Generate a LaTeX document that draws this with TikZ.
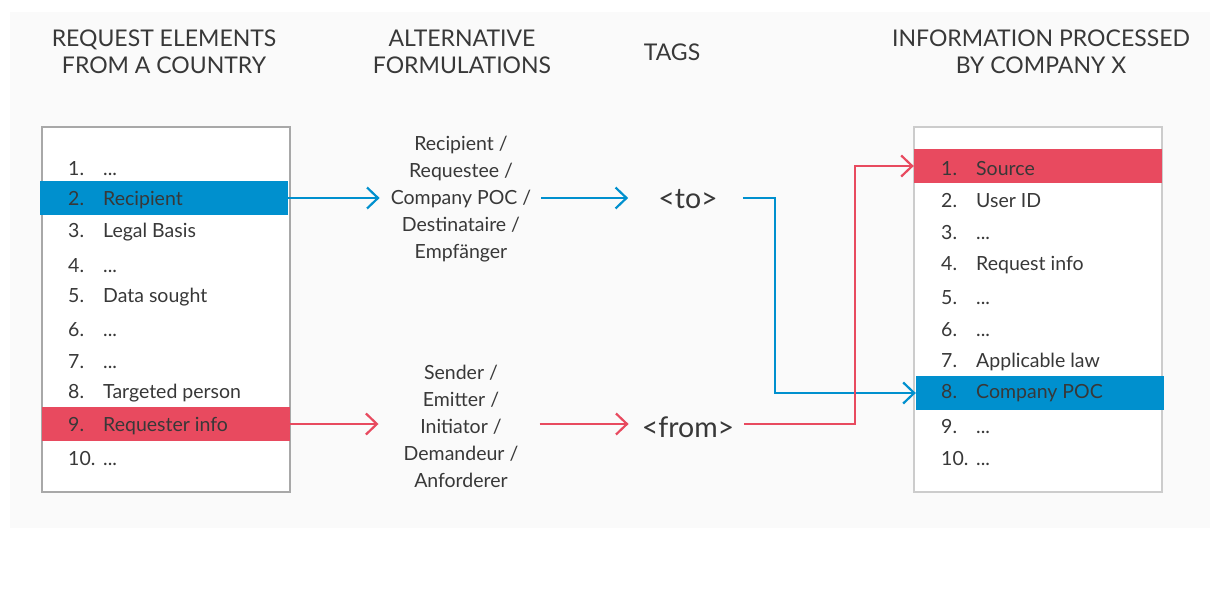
\documentclass[tikz,border=0pt]{standalone}
\usepackage{fontspec}
\setmainfont{Lato}
\usetikzlibrary{arrows.meta,calc}
\definecolor{bgc}{HTML}{FAFAFA}
\definecolor{txt}{HTML}{383838}
\definecolor{hblue}{HTML}{0090CE}
\definecolor{hred}{HTML}{E84A5F}
\definecolor{lborder}{HTML}{A8A8A8}
\definecolor{rborder}{HTML}{CCCCCC}
\tikzset{
  header/.style={text=txt, align=center, font=\fontsize{23}{27}\selectfont, inner sep=0pt},
  listbox/.style={fill=white, line width=1.5pt, minimum width=248pt, minimum height=365pt, anchor=north west, inner sep=0pt},
  hlrow/.style={minimum width=248pt, minimum height=34pt, inner sep=0pt},
  item/.style={text=txt, anchor=west, inner sep=0pt, font=\fontsize{19.5}{20}\selectfont},
  alt/.style={text=txt, align=center, inner sep=0pt, font=\fontsize{19.5}{27}\selectfont},
  tag/.style={text=txt, inner sep=0pt, font=\fontsize{28.5}{30}\selectfont},
  conn/.style={line width=2.2pt, -{Straight Barb[length=11pt,width=21pt,line width=2.2pt]}},
}
\newcommand{\itm}[2]{\makebox[35pt][l]{#1}#2}
\begin{document}
\begin{tikzpicture}[x=1pt,y=-1pt]
\useasboundingbox (0,0) rectangle (1210,594);
\fill[bgc] (10,12) rectangle (1210,528);

% headers
\node[header] (h1) at (164,52) {REQUEST ELEMENTS\\FROM A COUNTRY};
\node[header] (h2) at (462,52) {ALTERNATIVE\\FORMULATIONS};
\node[header] (h3) at (672,52) {TAGS};
\node[header] (h4) at (1041,52) {INFORMATION PROCESSED\\BY COMPANY X};

% left box
\node[listbox, draw=lborder] (lbox) at (41,126) {};
\node[hlrow, fill=hblue] (l2hl) at (164,198) {};
\node[hlrow, fill=hred] (l9hl) at (165.5,424) {};
\node[item] (l1) at (68,168.5) {\itm{1.}{...}};
\node[item] (l2) at (68,200.5) {\itm{2.}{Recipient}};
\node[item] (l3) at (68,232.5) {\itm{3.}{Legal Basis}};
\node[item] (l4) at (68,265.5) {\itm{4.}{...}};
\node[item] (l5) at (68,297.5) {\itm{5.}{Data sought}};
\node[item] (l6) at (68,329.5) {\itm{6.}{...}};
\node[item] (l7) at (68,361.5) {\itm{7.}{...}};
\node[item] (l8) at (68,393.5) {\itm{8.}{Targeted person}};
\node[item] (l9) at (68,426.5) {\itm{9.}{Requester info}};
\node[item] (l10) at (68,458.5) {\itm{10.}{...}};

% right box
\node[listbox, draw=rborder] (rbox) at (913,126) {};
\node[hlrow, fill=hred] (r1hl) at (1038,166) {};
\node[hlrow, fill=hblue] (r8hl) at (1040,393) {};
\node[item] (r1) at (941,168.5) {\itm{1.}{Source}};
\node[item] (r2) at (941,200.5) {\itm{2.}{User ID}};
\node[item] (r3) at (941,232.5) {\itm{3.}{...}};
\node[item] (r4) at (941,265.5) {\itm{4.}{Request info}};
\node[item] (r5) at (941,297.5) {\itm{5.}{...}};
\node[item] (r6) at (941,329.5) {\itm{6.}{...}};
\node[item] (r7) at (941,361.5) {\itm{7.}{Applicable law}};
\node[item] (r8) at (941,393.5) {\itm{8.}{Company POC}};
\node[item] (r9) at (941,426.5) {\itm{9.}{...}};
\node[item] (r10) at (941,458.5) {\itm{10.}{...}};

% alternative formulations
\node[alt] (altto) at (461,199) {Recipient /\\Requestee /\\Company POC /\\Destinataire /\\Empfänger};
\node[alt] (altfrom) at (461,426) {Sender /\\Emitter /\\Initiator /\\Demandeur /\\Anforderer};

% tags
\node[tag] (tto) at (688,199) {<to>};
\node[tag] (tfrom) at (688,427) {<from>};

% connectors
\draw[conn, hblue] (l2hl.east) -- ($(altto.west|-l2hl.east)+(-11,0)$);
\draw[conn, hblue] ($(altto.east|-l2hl.east)+(10,0)$) -- ($(tto.west|-l2hl.east)+(-30,0)$);
\coordinate (bto) at (775,198);
\draw[conn, hblue] ($(tto.east|-l2hl.east)+(25,0)$) -- (bto) |- (r8hl.west);

\draw[conn, hred] (l9hl.east) -- ($(altfrom.west|-l9hl.east)+(-25,0)$);
\draw[conn, hred] ($(altfrom.east|-l9hl.east)+(21,0)$) -- ($(tfrom.west|-l9hl.east)+(-13,0)$);
\coordinate (bfrom) at (855,424);
\draw[conn, hred] ($(tfrom.east|-l9hl.east)+(10,0)$) -- (bfrom) |- (r1hl.west);
\end{tikzpicture}
\end{document}
